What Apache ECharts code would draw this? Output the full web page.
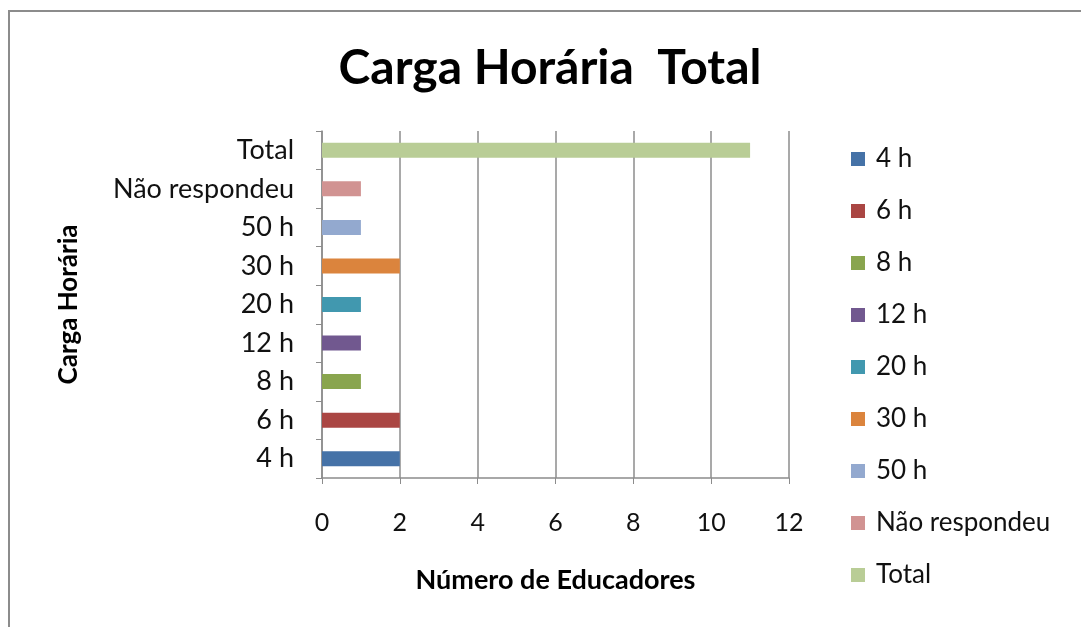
<!DOCTYPE html>
<html>
<head>
<meta charset="utf-8">
<title>Carga Horária Total</title>
<script src="https://cdn.jsdelivr.net/npm/echarts@6/dist/echarts.min.js"></script>
<style>
  html, body { margin: 0; padding: 0; background: #fff; }
  #chart { width: 1081px; height: 627px; }
</style>
</head>
<body>
<div id="chart"></div>
<script>
// categorias de baixo para cima, como no eixo
var categorias = ['4 h', '6 h', '8 h', '12 h', '20 h', '30 h', '50 h', 'Não respondeu', 'Total'];
var educadores = [2, 2, 1, 1, 1, 2, 1, 1, 11];
var cores = ['#4572A7', '#AA4643', '#89A54E', '#71588F', '#4198AF', '#DB843D', '#93A9CF', '#D19392', '#B9CD96'];
var ticksX = [0, 2, 4, 6, 8, 10, 12];

var fonte = 'Lato, "Open Sans", sans-serif';
var cinza = '#8c8c8c';

// uma série por categoria, empilhadas para ficarem centradas na faixa
var series = categorias.map(function (nome, i) {
    var dados = categorias.map(function (c, j) { return j === i ? educadores[i] : '-'; });
    return {
        name: nome,
        type: 'bar',
        stack: 'carga',
        barWidth: 15,
        itemStyle: { color: cores[i] },
        data: dados
    };
});

var chart = echarts.init(document.getElementById('chart'), null, { renderer: 'canvas' });
chart.setOption({
    animation: false,
    textStyle: { fontFamily: fonte },
    graphic: [{
        type: 'rect',
        shape: { x: 9, y: 11, width: 1200, height: 800 },
        style: { fill: 'none', stroke: cinza, lineWidth: 2 },
        silent: true
    }],
    title: {
        text: 'Carga Horária  Total',
        left: 545,
        textAlign: 'center',
        top: 40,
        textStyle: { fontFamily: fonte, fontWeight: 'bold', fontSize: 48, color: '#000' }
    },
    legend: {
        orient: 'vertical',
        left: 846,
        top: 141,
        itemWidth: 14,
        itemHeight: 14,
        itemGap: 26,
        icon: 'rect',
        data: categorias,
        textStyle: { fontFamily: fonte, fontSize: 26, color: '#111', padding: [0, 0, 0, 6] }
    },
    grid: { left: 322, right: 292, top: 131, bottom: 149, containLabel: false },
    xAxis: {
        type: 'value',
        min: 0,
        max: 12,
        interval: 2,
        name: 'Número de Educadores',
        nameLocation: 'middle',
        nameGap: 89,
        nameTextStyle: { fontFamily: fonte, fontWeight: 'bold', fontSize: 27, color: '#000' },
        axisLine: { show: true, lineStyle: { color: cinza, width: 1.5 } },
        axisTick: { show: true, length: 6, lineStyle: { color: cinza } },
        axisLabel: {
            margin: 32,
            fontFamily: fonte,
            fontSize: 25,
            color: '#111',
            formatter: function (v) { return ticksX.indexOf(v) >= 0 ? String(v) : ''; }
        },
        splitLine: { show: true, lineStyle: { color: cinza, width: 1.5 } }
    },
    yAxis: {
        type: 'category',
        data: categorias,
        name: 'Carga Horária',
        nameLocation: 'middle',
        nameGap: 240,
        nameRotate: 90,
        nameTextStyle: { fontFamily: fonte, fontWeight: 'bold', fontSize: 26, color: '#000' },
        axisLine: { show: true, lineStyle: { color: cinza, width: 1.5 } },
        axisTick: { show: true, length: 6, lineStyle: { color: cinza } },
        axisLabel: { margin: 28, fontFamily: fonte, fontSize: 27, color: '#111' },
        splitLine: { show: false }
    },
    series: series
});
</script>
</body>
</html>
